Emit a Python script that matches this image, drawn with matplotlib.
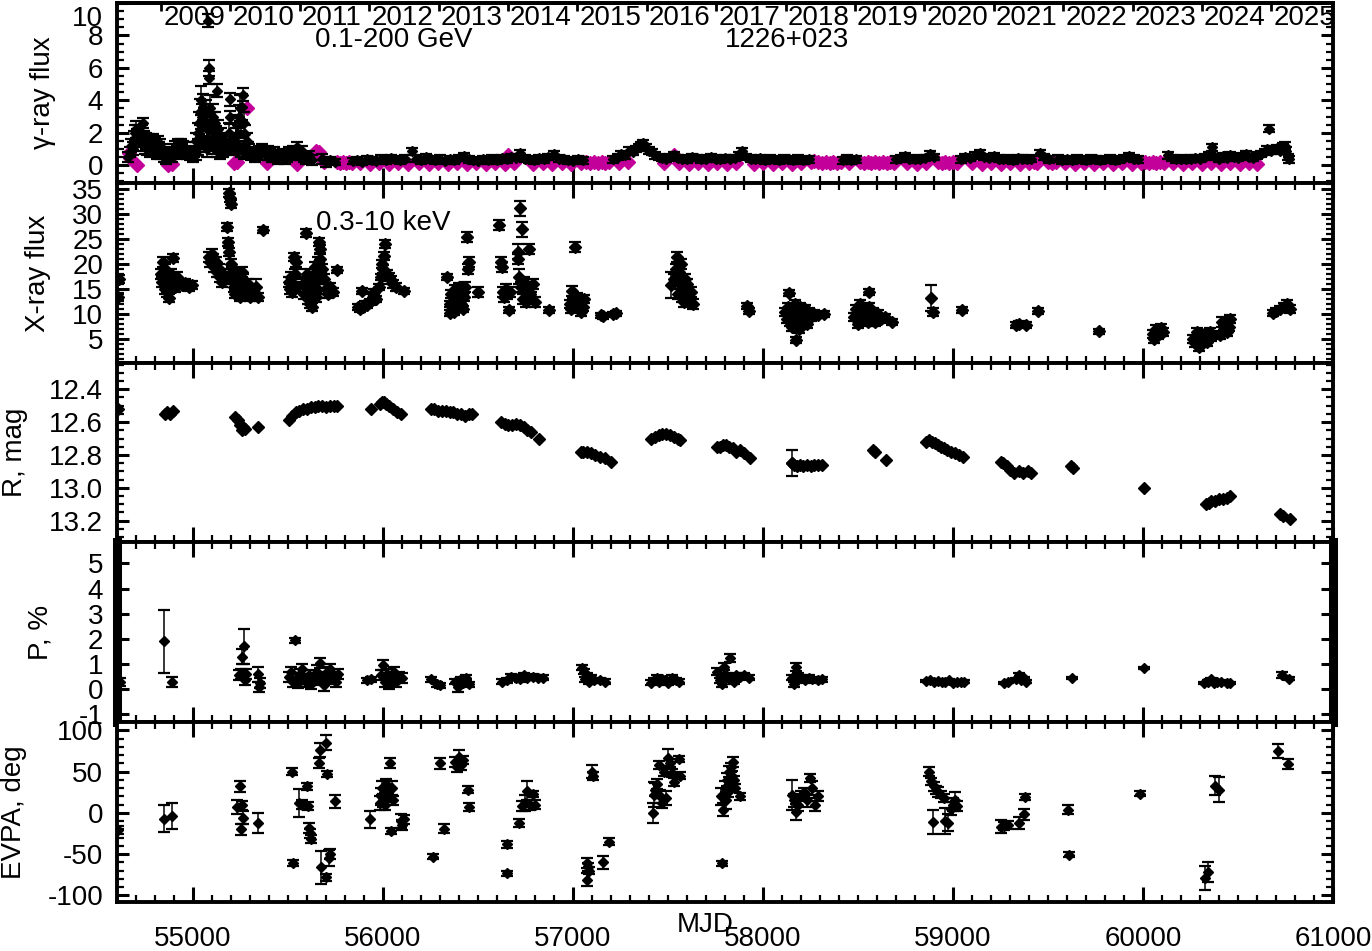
import matplotlib
matplotlib.use('Agg')
import matplotlib.pyplot as plt
from matplotlib.ticker import MultipleLocator, FixedLocator, NullLocator, FuncFormatter, FormatStrFormatter

# ---------------- data ----------------
years = [2009, 2010, 2011, 2012, 2013, 2014, 2015, 2016, 2017, 2018, 2019, 2020, 2021, 2022, 2023, 2024, 2025]
year_mjd = [54832, 55197, 55562, 55927, 56293, 56658, 57023, 57388, 57754, 58119, 58484, 58849, 59215, 59580, 59945, 60310, 60676]

# gamma-ray, early era (black, with errors)
g1_mjd = [54660, 54668, 54675, 54682, 54688, 54694, 54700, 54705, 54712, 54718,
          54724, 54730, 54735, 54741, 54747, 54753, 54760, 54766, 54772, 54778,
          54784, 54790, 54796, 54802, 54808, 54814, 54820, 54826, 54832, 54838,
          54845, 54852, 54860, 54868, 54876, 54884, 54892, 54900, 54907, 54914,
          54921, 54928, 54935, 54942, 54949, 54956, 54963, 54970, 54977, 54984,
          54991, 54998, 55005, 55012, 55018, 55024, 55030, 55036, 55040, 55045,
          55050, 55055, 55060, 55066, 55072, 55079, 55084, 55086, 55092, 55098,
          55104, 55110, 55116, 55122, 55128, 55134, 55140, 55146, 55152, 55158,
          55164, 55170, 55176, 55182, 55188, 55195, 55197, 55203, 55210, 55216,
          55222, 55228, 55234, 55240, 55246, 55252, 55258, 55263, 55270, 55276,
          55282, 55288, 55295, 55305, 55315, 55325, 55335, 55345, 55355, 55365,
          55375, 55385, 55395, 55405, 55415, 55425, 55435, 55445, 55455, 55465,
          55475, 55485, 55495, 55505, 55515, 55525, 55535, 55545, 55555, 55565,
          55575, 55585, 55595, 55610, 55625, 55680, 55700,
          55015, 55027, 55042, 55058, 55075, 55090, 55107, 55125, 55143, 55238, 55255, 55268]
g1_flux = [0.5, 0.8, 1.2, 1.0, 1.6, 2.0, 2.2, 1.7, 2.2, 1.8,
           1.4, 2.0, 2.6, 1.6, 1.2, 1.5, 1.0, 1.4, 0.9, 1.3,
           1.0, 1.5, 1.1, 1.3, 0.8, 1.4, 1.0, 1.2, 0.7, 0.9,
           0.5, 0.7, 0.4, 0.8, 0.5, 0.7, 0.5, 0.9, 1.1, 0.8,
           1.2, 1.0, 1.3, 0.9, 1.1, 0.8, 1.0, 0.7, 0.9, 0.6,
           0.8, 0.5, 0.8, 1.0, 1.5, 2.0, 2.6, 3.3, 4.0, 3.0,
           2.4, 3.6, 2.8, 3.2, 2.2, 8.9, 6.0, 5.4, 3.5, 2.6,
           3.0, 2.0, 2.6, 1.8, 4.6, 2.2, 1.5, 1.8, 1.2, 0.9,
           1.3, 1.0, 1.4, 1.1, 2.0, 4.05, 2.95, 1.5, 1.2, 1.0,
           1.5, 1.8, 2.5, 3.0, 3.5, 2.8, 3.6, 4.35, 2.6, 1.9,
           1.5, 1.0, 0.9, 0.6, 0.8, 0.5, 0.7, 0.9, 0.6, 1.0,
           0.8, 0.6, 0.9, 0.7, 0.5, 0.8, 0.6, 0.4, 0.6, 0.5,
           0.7, 0.4, 0.5, 0.8, 0.6, 0.9, 0.7, 1.1, 0.8, 0.6,
           0.9, 0.5, 0.4, 0.6, 0.3, 0.4, 0.2,
           0.7, 1.1, 1.6, 1.3, 1.0, 1.5, 1.2, 0.9, 0.8, 1.2, 1.0, 0.8]
g1_err = [0.3, 0.3, 0.4, 0.4, 0.5, 0.5, 0.5, 0.5, 0.3, 0.5,
          0.5, 0.5, 0.3, 0.5, 0.5, 0.5, 0.4, 0.5, 0.4, 0.5,
          0.4, 0.4, 0.4, 0.4, 0.4, 0.4, 0.4, 0.4, 0.3, 0.4,
          0.3, 0.3, 0.3, 0.3, 0.3, 0.3, 0.3, 0.4, 0.4, 0.4,
          0.4, 0.4, 0.3, 0.4, 0.4, 0.3, 0.4, 0.3, 0.3, 0.3,
          0.3, 0.3, 0.3, 0.4, 0.5, 0.6, 0.7, 0.8, 0.9, 0.8,
          0.7, 0.8, 0.7, 0.8, 0.6, 0.4, 0.5, 0.4, 0.8, 0.7,
          0.8, 0.6, 0.7, 0.6, 0.4, 0.6, 0.5, 0.5, 0.4, 0.4,
          0.5, 0.4, 0.5, 0.4, 0.6, 0.4, 0.4, 0.5, 0.4, 0.4,
          0.5, 0.5, 0.6, 0.7, 0.8, 0.7, 0.8, 0.4, 0.7, 0.6,
          0.5, 0.4, 0.4, 0.3, 0.3, 0.3, 0.3, 0.3, 0.3, 0.3,
          0.3, 0.3, 0.3, 0.3, 0.3, 0.3, 0.3, 0.3, 0.3, 0.3,
          0.3, 0.3, 0.3, 0.3, 0.3, 0.3, 0.3, 0.3, 0.3, 0.3,
          0.3, 0.3, 0.3, 0.3, 0.3, 0.3, 0.3,
          0.4, 0.5, 0.6, 0.5, 0.5, 0.6, 0.5, 0.4, 0.4, 0.5, 0.5, 0.4]

# gamma-ray, low state (black)
g2_mjd = [55720, 55745, 55840, 55865, 55890, 55915, 55940, 55965, 55990, 56015,
          56040, 56065, 56090, 56115, 56150, 56175, 56200, 56225, 56250, 56275,
          56300, 56325, 56350, 56375, 56400, 56425, 56450, 56475, 56500, 56525,
          56550, 56575, 56600, 56625, 56650, 56675, 56700, 56720, 56745, 56770,
          56795, 56820, 56845, 56870, 56900, 56925, 56950, 56975, 57000, 57025,
          57050, 57210, 57235, 57255, 57275, 57295, 57315, 57330, 57345, 57360,
          57370, 57385, 57400, 57415, 57430, 57450, 57470, 57490, 57510, 57530,
          57550, 57575, 57600, 57625, 57650, 57675, 57700, 57725, 57750, 57775,
          57800, 57825, 57850, 57875, 57890, 57910, 57935, 57960, 57985, 58010,
          58035, 58060, 58085, 58110, 58135, 58160, 58185, 58210, 58240, 58420,
          58440, 58465, 58490, 58700, 58725, 58745, 58770, 58800, 58825, 58850,
          58880, 58900, 59040, 59065, 59090, 59115, 59140, 59165, 59190, 59215,
          59240, 59265, 59290, 59315, 59340, 59365, 59390, 59410, 59460, 59480,
          59505, 59550, 59575, 59600, 59625, 59650, 59675, 59700, 59725, 59750,
          59775, 59800, 59825, 59850, 59875, 59900, 59925, 59950, 59975, 60130,
          60150, 60175, 60200, 60225, 60250, 60275, 60300, 60325, 60345, 60363,
          60380, 60400, 60420, 60440, 60460, 60480, 60500, 60520, 60540, 60560,
          60580, 60600, 60620, 60640, 60655, 60663, 60675, 60690, 60705, 60720,
          60735, 60747, 60755, 60765, 60770]
g2_flux = [0.3, 0.2, 0.25, 0.3, 0.2, 0.35, 0.3, 0.25, 0.4, 0.3,
           0.45, 0.35, 0.3, 0.4, 0.85, 0.4, 0.3, 0.5, 0.35, 0.3,
           0.4, 0.25, 0.35, 0.3, 0.45, 0.55, 0.35, 0.3, 0.25, 0.35,
           0.3, 0.4, 0.3, 0.45, 0.35, 0.5, 0.45, 0.75, 0.4, 0.35,
           0.3, 0.45, 0.35, 0.5, 0.7, 0.4, 0.35, 0.3, 0.25, 0.35,
           0.3, 0.35, 0.5, 0.7, 0.6, 0.9, 0.8, 1.0, 1.1, 1.25,
           1.35, 1.1, 0.9, 0.8, 0.6, 0.5, 0.45, 0.4, 0.5, 0.6,
           0.45, 0.4, 0.35, 0.5, 0.45, 0.35, 0.4, 0.5, 0.4, 0.35,
           0.45, 0.4, 0.45, 0.6, 0.85, 0.5, 0.4, 0.35, 0.45, 0.3,
           0.4, 0.35, 0.3, 0.4, 0.35, 0.3, 0.4, 0.3, 0.35, 0.3,
           0.4, 0.3, 0.35, 0.35, 0.45, 0.55, 0.4, 0.35, 0.4, 0.45,
           0.7, 0.5, 0.35, 0.5, 0.45, 0.6, 0.75, 0.5, 0.45, 0.55,
           0.4, 0.35, 0.4, 0.3, 0.45, 0.4, 0.35, 0.4, 0.75, 0.5,
           0.35, 0.4, 0.3, 0.35, 0.3, 0.4, 0.35, 0.3, 0.4, 0.35,
           0.3, 0.35, 0.4, 0.3, 0.35, 0.45, 0.55, 0.4, 0.35, 0.6,
           0.45, 0.35, 0.4, 0.35, 0.4, 0.45, 0.4, 0.5, 0.6, 1.1,
           0.5, 0.4, 0.55, 0.45, 0.6, 0.5, 0.45, 0.55, 0.7, 0.5,
           0.45, 0.6, 0.7, 0.8, 1.0, 2.25, 0.9, 1.0, 1.05, 0.9,
           1.15, 1.2, 0.9, 0.5, 0.35]
g2_err = 0.2

# gamma-ray upper limits (magenta)
gul_mjd = [54662, 54670, 54705, 54870, 54890, 55215, 55230, 55286, 55390, 55488,
           55500, 55520, 55547, 55615, 55645, 55662, 55690, 55760, 55775, 55790,
           55805, 55820, 55835, 55880, 55930, 55980, 56030, 56080, 56130, 56190,
           56240, 56290, 56340, 56390, 56440, 56490, 56540, 56590, 56640, 56660,
           56690, 56790, 56840, 56890, 56940, 56990, 57040, 57070, 57090, 57110,
           57130, 57150, 57170, 57190, 57240, 57290, 57480, 57530, 57560, 57610,
           57660, 57710, 57760, 57810, 57860, 57950, 58000, 58050, 58100, 58150,
           58200, 58250, 58270, 58290, 58310, 58330, 58350, 58370, 58390, 58410,
           58450, 58510, 58530, 58550, 58570, 58590, 58610, 58630, 58650, 58670,
           58690, 58760, 58810, 58860, 58920, 58940, 58960, 58980, 59000, 59020,
           59100, 59150, 59200, 59250, 59300, 59350, 59400, 59425, 59440, 59500,
           59520, 59540, 59590, 59640, 59690, 59740, 59790, 59840, 59890, 59940,
           59990, 60010, 60030, 60050, 60070, 60090, 60110, 60160, 60210, 60260,
           60310, 60360, 60410, 60460, 60510, 60560, 60600]
gul_flux = [0.75, 0.45, 0.0, 0.0, 0.05, 0.15, 0.2, 3.5, 0.15, 0.7,
            0.6, 0.5, 0.1, 0.5, 0.85, 0.8, 0.2, 0.2, 0.15, 0.2,
            0.15, 0.2, 0.15, 0.15, 0.1, 0.15, 0.1, 0.15, 0.1, 0.15,
            0.1, 0.15, 0.1, 0.15, 0.1, 0.15, 0.1, 0.15, 0.1, 0.6,
            0.15, 0.1, 0.15, 0.1, 0.15, 0.1, 0.15, 0.2, 0.15, 0.2,
            0.15, 0.2, 0.15, 0.2, 0.15, 0.2, 0.15, 0.6, 0.15, 0.1,
            0.15, 0.1, 0.15, 0.1, 0.15, 0.1, 0.15, 0.1, 0.15, 0.1,
            0.15, 0.2, 0.25, 0.2, 0.15, 0.2, 0.15, 0.2, 0.15, 0.2,
            0.15, 0.2, 0.15, 0.2, 0.15, 0.2, 0.15, 0.2, 0.15, 0.2,
            0.15, 0.15, 0.1, 0.15, 0.2, 0.15, 0.2, 0.15, 0.2, 0.15,
            0.15, 0.1, 0.15, 0.1, 0.15, 0.1, 0.15, 0.2, 0.15, 0.2,
            0.15, 0.2, 0.15, 0.1, 0.15, 0.1, 0.15, 0.1, 0.15, 0.1,
            0.15, 0.2, 0.15, 0.2, 0.15, 0.2, 0.15, 0.15, 0.1, 0.15,
            0.1, 0.15, 0.1, 0.15, 0.1, 0.15, 0.1]

# X-ray 0.3-10 keV
x_mjd = [54606, 54612, 54830, 54835, 54840, 54845, 54850, 54855, 54860, 54865,
         54870, 54875, 54880, 54885, 54890, 54895, 54900, 54905, 54915, 54925,
         54940, 54960, 54980, 54995, 55085, 55092, 55098, 55105, 55112, 55120,
         55128, 55135, 55140, 55150, 55160, 55170, 55180, 55185, 55190, 55192,
         55195, 55198, 55200, 55205, 55210, 55215, 55220, 55225, 55230, 55235,
         55240, 55245, 55250, 55255, 55260, 55265, 55270, 55280, 55290, 55300,
         55310, 55320, 55330, 55340, 55370, 55505, 55510, 55515, 55520, 55525,
         55530, 55535, 55540, 55545, 55585, 55590, 55595, 55600, 55605, 55610,
         55615, 55620, 55625, 55630, 55635, 55640, 55645, 55650, 55655, 55660,
         55663, 55666, 55670, 55675, 55680, 55690, 55700, 55710, 55720, 55735,
         55760, 55870, 55880, 55890, 55895, 55905, 55915, 55930, 55945, 55955,
         55965, 55980, 55990, 55995, 56000, 56005, 56010, 56020, 56030, 56040,
         56055, 56070, 56110, 56335, 56350, 56355, 56360, 56365, 56370, 56375,
         56380, 56385, 56390, 56395, 56400, 56405, 56410, 56415, 56420, 56425,
         56430, 56442, 56447, 56452, 56500, 56610, 56620, 56625, 56630, 56638,
         56645, 56655, 56662, 56670, 56710, 56713, 56716, 56721, 56732, 56725,
         56735, 56742, 56750, 56758, 56766, 56772, 56780, 56790, 56800, 56875,
         56985, 56990, 56995, 57000, 57008, 57020, 57030, 57040, 57050, 57060,
         57145, 57160, 57210, 57225, 57515, 57530, 57540, 57548, 57555, 57560,
         57565, 57570, 57575, 57580, 57585, 57590, 57595, 57600, 57610, 57620,
         57630, 57915, 57925, 58115, 58125, 58130, 58137, 58140, 58145, 58150,
         58155, 58160, 58165, 58170, 58176, 58180, 58185, 58190, 58195, 58200,
         58205, 58210, 58220, 58230, 58240, 58255, 58270, 58290, 58320, 58480,
         58490, 58500, 58510, 58520, 58530, 58550, 58558, 58560, 58570, 58580,
         58590, 58605, 58620, 58640, 58680, 58885, 58895, 59048, 59330, 59345,
         59385, 59447, 59768, 60050, 60060, 60070, 60080, 60095, 60105, 60265,
         60275, 60285, 60295, 60305, 60320, 60335, 60350, 60360, 60405, 60415,
         60425, 60440, 60455, 60460, 60685, 60700, 60720, 60740, 60760, 60775]
x_flux = [13.4, 17.0, 18.0, 16.5, 20.5, 17.5, 15.0, 19.0, 16.0, 14.5,
          17.5, 13.2, 15.5, 18.0, 16.5, 21.2, 17.0, 15.5, 17.5, 16.0,
          15.8, 16.2, 15.5, 15.8, 21.5, 20.5, 22.0, 21.0, 19.5, 20.5,
          18.5, 19.0, 17.5, 16.5, 18.0, 17.0, 27.4, 24.5, 22.5, 34.3,
          33.2, 32.0, 20.0, 18.5, 17.0, 15.5, 14.0, 16.5, 18.0, 15.0,
          17.0, 13.5, 16.0, 14.5, 18.5, 17.0, 15.5, 14.0, 16.0, 13.5,
          15.0, 14.5, 15.5, 13.5, 26.8, 16.5, 15.0, 17.5, 14.5, 16.0,
          21.4, 18.0, 20.5, 15.5, 14.0, 16.5, 26.2, 18.0, 13.0, 15.5,
          12.0, 17.0, 11.5, 14.5, 16.5, 19.5, 13.5, 18.0, 15.0, 20.5,
          24.5, 23.0, 21.0, 17.5, 19.0, 17.0, 15.0, 14.0, 15.5, 14.5,
          18.8, 11.4, 11.0, 14.6, 11.5, 12.0, 11.8, 12.5, 13.5, 14.5,
          13.0, 15.5, 17.5, 20.0, 19.0, 21.6, 24.0, 18.0, 17.5, 16.8,
          16.0, 15.5, 14.6, 17.5, 10.2, 12.0, 14.0, 11.0, 13.5, 10.5,
          15.0, 12.5, 14.5, 11.5, 15.5, 13.0, 12.0, 14.0, 11.0, 13.5,
          15.5, 25.4, 19.0, 20.5, 14.5, 27.8, 20.5, 19.5, 14.5, 13.5,
          15.0, 14.0, 10.8, 14.5, 22.5, 21.0, 17.5, 31.2, 27.0, 15.5,
          13.0, 16.5, 12.5, 15.0, 23.0, 14.0, 13.5, 16.0, 12.5, 10.8,
          12.0, 11.0, 14.6, 12.5, 23.4, 13.5, 12.0, 10.5, 11.5, 13.0,
          9.8, 9.6, 10.0, 10.2, 15.8, 17.0, 19.0, 21.5, 14.0, 18.5,
          16.0, 20.0, 13.5, 15.5, 12.5, 17.0, 14.0, 16.0, 13.0, 14.5,
          12.0, 11.6, 10.6, 10.5, 9.0, 11.5, 14.2, 8.5, 10.0, 7.5,
          11.0, 9.5, 8.0, 12.0, 4.8, 9.0, 10.5, 7.0, 11.5, 8.5,
          10.0, 9.5, 11.0, 8.0, 10.5, 9.5, 10.0, 9.8, 10.0, 9.5,
          11.0, 8.0, 12.0, 9.0, 10.5, 8.5, 14.4, 11.5, 9.5, 10.5,
          8.5, 10.0, 9.0, 9.5, 8.5, 13.2, 10.4, 10.8, 7.8, 8.0,
          7.8, 10.6, 6.6, 6.0, 5.0, 7.0, 5.8, 7.2, 6.5, 5.0,
          4.2, 6.5, 3.5, 5.5, 6.0, 4.5, 6.5, 5.5, 5.8, 8.5,
          7.0, 6.5, 7.5, 9.0, 10.2, 10.6, 11.0, 11.5, 12.0, 11.0]
x_err = [0.8, 0.8, 1.0, 1.0, 1.0, 1.0, 1.0, 1.0, 1.0, 1.0,
         1.0, 0.8, 1.0, 1.0, 1.0, 0.8, 1.0, 1.0, 1.0, 0.8,
         0.8, 0.8, 0.8, 0.8, 1.0, 1.0, 1.0, 1.0, 1.0, 1.0,
         1.0, 1.0, 1.0, 1.0, 1.0, 1.0, 0.8, 0.8, 0.8, 0.8,
         0.8, 0.8, 1.0, 1.0, 1.0, 1.0, 0.8, 1.0, 1.0, 1.0,
         1.0, 0.8, 1.0, 1.0, 1.0, 1.0, 1.0, 1.0, 1.0, 0.8,
         1.0, 1.0, 1.5, 0.8, 0.6, 1.0, 1.0, 1.0, 1.0, 1.0,
         0.8, 1.0, 1.0, 1.0, 1.0, 1.0, 0.8, 1.0, 1.0, 1.0,
         0.8, 1.0, 0.8, 1.0, 1.0, 1.0, 1.0, 1.0, 1.0, 1.0,
         0.8, 0.8, 1.0, 1.0, 1.0, 1.0, 1.0, 0.8, 0.8, 0.8,
         0.6, 0.6, 0.6, 0.6, 0.6, 0.6, 0.6, 0.6, 0.6, 0.6,
         0.6, 0.6, 0.6, 0.8, 0.8, 0.8, 0.8, 0.8, 0.8, 0.8,
         0.8, 0.8, 0.6, 0.6, 0.6, 0.6, 0.8, 0.6, 0.8, 0.6,
         0.8, 0.8, 0.8, 0.6, 0.8, 0.8, 0.8, 0.8, 0.6, 0.8,
         1.0, 1.0, 1.0, 1.0, 1.0, 1.0, 1.0, 1.0, 1.0, 1.0,
         1.0, 1.0, 0.6, 1.0, 1.5, 1.0, 1.5, 1.5, 1.5, 1.0,
         1.0, 1.0, 1.0, 1.0, 1.0, 1.0, 1.0, 1.0, 1.0, 0.6,
         0.8, 0.8, 1.0, 0.8, 1.0, 0.8, 0.8, 0.8, 0.8, 0.8,
         0.5, 0.5, 0.5, 0.5, 2.6, 1.0, 1.0, 1.0, 1.0, 1.0,
         1.0, 1.0, 1.0, 1.0, 1.0, 1.0, 1.0, 1.0, 1.0, 1.0,
         1.0, 0.6, 0.6, 0.8, 0.8, 0.8, 0.6, 0.8, 0.8, 0.8,
         0.8, 0.8, 0.8, 0.8, 0.6, 0.8, 0.8, 0.8, 0.8, 0.8,
         0.8, 0.8, 0.8, 0.8, 0.8, 0.8, 0.8, 0.6, 0.6, 0.8,
         0.8, 0.8, 0.8, 0.8, 0.8, 0.8, 0.6, 0.8, 0.8, 0.8,
         0.8, 0.8, 0.8, 0.6, 0.6, 2.6, 0.8, 0.6, 0.6, 0.6,
         0.6, 0.6, 0.5, 0.8, 0.8, 0.8, 0.8, 0.8, 0.8, 0.8,
         0.8, 0.8, 0.8, 0.8, 0.8, 0.8, 0.8, 0.8, 0.8, 1.0,
         0.8, 0.8, 0.8, 0.8, 0.6, 0.6, 0.6, 0.8, 0.8, 0.8]

# R-band magnitude
r_mjd = [54605, 54850, 54865, 54880, 54895, 55220, 55235, 55248, 55258, 55265,
         55275, 55340, 55505, 55520, 55540, 55560, 55580, 55600, 55620, 55640,
         55660, 55680, 55700, 55720, 55740, 55760, 55935, 55985, 55995, 56005,
         56015, 56030, 56050, 56075, 56095, 56255, 56270, 56290, 56310, 56330,
         56350, 56370, 56390, 56410, 56430, 56450, 56470, 56620, 56640, 56660,
         56680, 56700, 56720, 56740, 56760, 56780, 56820, 57040, 57055, 57075,
         57095, 57115, 57140, 57170, 57200, 57410, 57430, 57450, 57470, 57490,
         57510, 57530, 57550, 57565, 57760, 57775, 57790, 57805, 57820, 57840,
         57860, 57880, 57900, 57930, 58150, 58165, 58180, 58195, 58210, 58230,
         58250, 58270, 58290, 58310, 58580, 58590, 58645, 58860, 58875, 58890,
         58905, 58920, 58935, 58950, 58970, 58990, 59010, 59030, 59050, 59250,
         59265, 59285, 59300, 59320, 59345, 59370, 59395, 59410, 59620, 59630,
         60005, 60330, 60345, 60360, 60380, 60400, 60420, 60440, 60460, 60720,
         60735, 60775]
r_mag = [12.52, 12.55, 12.54, 12.55, 12.53, 12.57, 12.59, 12.62, 12.65, 12.63,
         12.64, 12.63, 12.59, 12.56, 12.54, 12.53, 12.52, 12.52, 12.51, 12.51,
         12.50, 12.50, 12.51, 12.50, 12.50, 12.50, 12.52, 12.49, 12.48, 12.48,
         12.49, 12.50, 12.52, 12.54, 12.55, 12.52, 12.52, 12.53, 12.53, 12.53,
         12.54, 12.54, 12.55, 12.55, 12.56, 12.55, 12.55, 12.60, 12.61, 12.62,
         12.62, 12.61, 12.62, 12.63, 12.65, 12.66, 12.70, 12.78, 12.78, 12.78,
         12.79, 12.80, 12.81, 12.82, 12.84, 12.70, 12.69, 12.68, 12.67, 12.67,
         12.68, 12.69, 12.70, 12.71, 12.75, 12.75, 12.74, 12.74, 12.75, 12.76,
         12.78, 12.77, 12.79, 12.82, 12.85, 12.86, 12.87, 12.86, 12.87, 12.86,
         12.87, 12.86, 12.86, 12.86, 12.77, 12.78, 12.83, 12.72, 12.71, 12.72,
         12.73, 12.74, 12.75, 12.76, 12.77, 12.78, 12.79, 12.80, 12.81, 12.84,
         12.85, 12.87, 12.89, 12.91, 12.90, 12.91, 12.90, 12.91, 12.87, 12.88,
         13.00, 13.10, 13.09, 13.08, 13.08, 13.07, 13.07, 13.06, 13.05, 13.16,
         13.17, 13.19]
r_err_mjd = [58150]
r_err_mag = [12.85]
r_err_err = [0.08]

# polarization degree
p_mjd = [54616, 54847, 54889, 55240, 55250, 55260, 55268, 55272, 55280, 55340,
         55345, 55355, 55505, 55515, 55525, 55535, 55545, 55555, 55565, 55575,
         55585, 55595, 55610, 55620, 55635, 55650, 55660, 55670, 55680, 55690,
         55700, 55710, 55720, 55735, 55750, 55765, 55915, 55935, 55990, 56000,
         56010, 56020, 56030, 56040, 56050, 56060, 56070, 56085, 56100, 56255,
         56285, 56300, 56380, 56395, 56410, 56420, 56435, 56450, 56625, 56650,
         56675, 56700, 56720, 56740, 56760, 56790, 56815, 56840, 57045, 57060,
         57065, 57075, 57085, 57095, 57110, 57140, 57170, 57410, 57425, 57440,
         57455, 57470, 57485, 57500, 57520, 57540, 57560, 57760, 57775, 57785,
         57795, 57805, 57815, 57825, 57835, 57845, 57860, 57880, 57900, 57925,
         58150, 58165, 58175, 58185, 58200, 58220, 58240, 58260, 58290, 58310,
         58860, 58880, 58900, 58920, 58940, 58960, 58980, 59000, 59020, 59040,
         59060, 59270, 59290, 59330, 59345, 59360, 59375, 59385, 59626, 60005,
         60320, 60340, 60360, 60375, 60390, 60410, 60440, 60460, 60732, 60770]
p_val = [0.28, 1.9, 0.30, 0.55, 0.6, 1.3, 1.7, 0.35, 0.6, 0.6,
         0.1, 0.25, 0.5, 0.7, 0.3, 1.95, 0.45, 0.25, 0.6, 0.8,
         0.4, 0.3, 0.55, 0.2, 0.45, 0.7, 0.35, 1.05, 0.5, 0.15,
         0.65, 0.4, 0.8, 0.5, 0.3, 0.6, 0.35, 0.4, 0.55, 0.95,
         0.3, 0.6, 0.2, 0.5, 0.4, 0.7, 0.3, 0.5, 0.45, 0.40,
         0.20, 0.15, 0.3, 0.1, 0.4, 0.25, 0.45, 0.2, 0.30, 0.35,
         0.50, 0.45, 0.40, 0.55, 0.45, 0.50, 0.45, 0.45, 0.85, 0.70,
         0.4, 0.55, 0.3, 0.45, 0.35, 0.35, 0.3, 0.25, 0.35, 0.45,
         0.3, 0.4, 0.35, 0.25, 0.45, 0.35, 0.3, 0.7, 0.35, 0.2,
         0.9, 0.55, 0.45, 1.25, 0.5, 0.3, 0.55, 0.5, 0.55, 0.45,
         0.45, 0.2, 0.88, 0.55, 0.45, 0.35, 0.45, 0.40, 0.35, 0.4,
         0.33, 0.35, 0.30, 0.33, 0.30, 0.28, 0.35, 0.25, 0.3, 0.28,
         0.3, 0.25, 0.28, 0.4, 0.55, 0.35, 0.45, 0.3, 0.45, 0.85,
         0.25, 0.3, 0.4, 0.25, 0.3, 0.3, 0.25, 0.25, 0.55, 0.42]
p_err = [0.15, 1.25, 0.2, 0.2, 0.2, 0.3, 0.7, 0.2, 0.2, 0.3,
         0.2, 0.2, 0.2, 0.2, 0.2, 0.1, 0.2, 0.2, 0.2, 0.2,
         0.2, 0.2, 0.2, 0.2, 0.2, 0.25, 0.2, 0.2, 0.2, 0.2,
         0.25, 0.2, 0.2, 0.2, 0.2, 0.2, 0.1, 0.1, 0.2, 0.2,
         0.2, 0.2, 0.2, 0.2, 0.2, 0.2, 0.2, 0.2, 0.2, 0.1,
         0.1, 0.1, 0.1, 0.2, 0.1, 0.1, 0.1, 0.1, 0.1, 0.1,
         0.1, 0.1, 0.1, 0.1, 0.1, 0.1, 0.1, 0.1, 0.1, 0.1,
         0.1, 0.1, 0.1, 0.1, 0.1, 0.1, 0.1, 0.1, 0.1, 0.1,
         0.1, 0.1, 0.1, 0.1, 0.1, 0.1, 0.1, 0.15, 0.1, 0.1,
         0.15, 0.1, 0.1, 0.15, 0.1, 0.1, 0.1, 0.1, 0.1, 0.1,
         0.1, 0.1, 0.15, 0.1, 0.1, 0.1, 0.1, 0.1, 0.1, 0.1,
         0.05, 0.05, 0.05, 0.05, 0.05, 0.05, 0.05, 0.05, 0.05, 0.05,
         0.05, 0.05, 0.05, 0.05, 0.1, 0.05, 0.05, 0.05, 0.05, 0.05,
         0.05, 0.05, 0.05, 0.05, 0.05, 0.05, 0.05, 0.05, 0.12, 0.05]

# EVPA
e_mjd = [54605, 54845, 54888, 55232, 55245, 55255, 55260, 55262, 55340, 55521,
         55527, 55560, 55575, 55600, 55605, 55612, 55618, 55620, 55665, 55668,
         55674, 55700, 55702, 55705, 55715, 55720, 55745, 55932, 55985, 55990,
         55995, 56000, 56005, 56010, 56015, 56020, 56025, 56030, 56035, 56040,
         56045, 56055, 56095, 56100, 56110, 56263, 56300, 56321, 56380, 56390,
         56400, 56410, 56420, 56445, 56450, 56652, 56655, 56715, 56730, 56745,
         56760, 56775, 56790, 56800, 57074, 57076, 57080, 57085, 57100, 57104,
         57158, 57189, 57420, 57425, 57432, 57440, 57450, 57460, 57470, 57480,
         57490, 57500, 57510, 57520, 57530, 57560, 57565, 57784, 57780, 57790,
         57800, 57805, 57810, 57815, 57820, 57825, 57830, 57835, 57840, 57845,
         57850, 57880, 58155, 58165, 58175, 58185, 58200, 58215, 58230, 58245,
         58260, 58275, 58290, 58873, 58885, 58895, 58900, 58910, 58920, 58935,
         58950, 58960, 58975, 58990, 59000, 59010, 59020, 59250, 59270, 59290,
         59347, 59374, 59380, 59605, 59608, 59984, 60326, 60340, 60380, 60400,
         60710, 60763]
e_val = [-21, -7, -4, 7, 32, -20, 9, -6, -12, 50,
         -61, 12, 10, 32, 8, -18, -25, -32, 60, 76,
         -66, 85, -78, 47, -55, -50, 14, -8, 12, 20,
         30, 15, 25, 10, 35, 18, 28, 22, 60, -22,
         30, 15, -10, -15, -8, -53, 60, -19, 62, 55,
         68, 58, 64, 28, 7, -38, -73, -12, 8, 12,
         27, 10, 23, 10, -61, -81, -66, -70, 50, 45,
         -60, -35, 0, 22, 28, 35, 58, 20, 12, 50,
         18, 67, 60, 48, 37, 65, 45, -61, 20, 4,
         30, 15, 40, 25, 50, 35, 55, 45, 62, 40,
         30, 20, 22, 15, 1, 10, 20, 25, 15, 42,
         30, 10, 20, 50, 38, -11, 32, 28, 25, 22,
         18, -10, -12, 5, 10, 15, 8, -17, -16, -15,
         -12, -2, 19, 4, -51, 23, -79, -72, 33, 28,
         75, 59]
e_err = [5, 16, 16, 9, 7, 7, 5, 8, 12, 4,
         4, 17, 5, 4, 5, 6, 6, 5, 6, 8,
         20, 9, 4, 4, 10, 6, 8, 10, 8, 10,
         8, 8, 5, 6, 6, 5, 5, 5, 6, 4,
         8, 5, 8, 6, 5, 3, 7, 5, 6, 5,
         8, 6, 5, 4, 5, 4, 3, 5, 6, 10,
         12, 6, 4, 5, 6, 8, 5, 4, 8, 5,
         8, 4, 12, 15, 8, 6, 5, 8, 6, 6,
         8, 10, 5, 5, 5, 4, 4, 3, 10, 8,
         8, 10, 8, 6, 7, 6, 5, 6, 6, 5,
         5, 4, 18, 8, 10, 8, 6, 5, 8, 5,
         8, 8, 6, 5, 4, 15, 5, 5, 6, 4,
         5, 16, 10, 8, 8, 10, 6, 8, 5, 5,
         7, 7, 4, 5, 3, 3, 15, 12, 12, 15,
         8, 6]

# ---------------- figure ----------------
plt.rcParams['font.family'] = ['Liberation Sans', 'DejaVu Sans']
plt.rcParams['font.size'] = 20
plt.rcParams['axes.unicode_minus'] = False

W, H = 1372, 951
fig = plt.figure(figsize=(W / 100, H / 100), dpi=100)
left, right = 117 / W, 1333 / W
edges = [3, 183, 363, 542, 722, 902]
axes = []
for i in range(5):
    t, b = edges[i], edges[i + 1]
    axes.append(fig.add_axes([left, 1 - b / H, right - left, (b - t) / H]))

MAG = '#C4009B'


def style(ax, ymaj, ymin, ylim):
    ax.set_xlim(54600, 61000)
    ax.set_ylim(*ylim)
    ax.xaxis.set_major_locator(MultipleLocator(1000))
    ax.xaxis.set_minor_locator(MultipleLocator(100))
    ax.yaxis.set_major_locator(MultipleLocator(ymaj))
    if ymin:
        ax.yaxis.set_minor_locator(MultipleLocator(ymin))
    else:
        ax.yaxis.set_minor_locator(NullLocator())
    ax.tick_params(which='both', direction='in', top=True, right=True,
                   bottom=True, left=True, labelbottom=False, width=2.2)
    ax.tick_params(axis='x', which='major', length=11, pad=17)
    ax.tick_params(axis='x', which='minor', length=5, width=1.6)
    ax.tick_params(axis='y', which='major', length=8.6, pad=10)
    ax.tick_params(axis='y', which='minor', length=5, width=1.6)
    for s in ax.spines.values():
        s.set_linewidth(2.8)


def eb(ax, x, y, e, ms=5.5):
    ax.errorbar(x, y, yerr=e, fmt='D', color='black', ms=ms, mec='black',
                capsize=4.5, elinewidth=1.1, capthick=1.6, zorder=3)


# panel 1: gamma
ax = axes[0]
style(ax, 2, 0.5, (-1.1, 10.0))
ax.tick_params(which='both', top=False)
ax.yaxis.set_major_formatter(FuncFormatter(lambda v, p: '' if v > 9.9 else f'{v:g}'))
ax.plot(gul_mjd, gul_flux, 'D', color=MAG, ms=7.5, mec=MAG, zorder=2)
eb(ax, g1_mjd, g1_flux, g1_err)
eb(ax, g2_mjd, g2_flux, g2_err)
ax.annotate('10', xy=(0, 10), xycoords=('axes fraction', 'data'), xytext=(-10, -16.5),
            textcoords='offset points', ha='right', va='baseline', annotation_clip=False)
sec = ax.secondary_xaxis('top')
sec.xaxis.set_major_locator(FixedLocator(year_mjd))
sec.xaxis.set_minor_locator(NullLocator())
sec.tick_params(direction='in', length=6, width=2, labeltop=False)
sec.spines['top'].set_linewidth(2.8)
for yr, m in zip(years, year_mjd):
    ax.annotate(str(yr), xy=(m, 1), xycoords=('data', 'axes fraction'), xytext=(1.5, -15.8),
                textcoords='offset points', ha='left', va='baseline', annotation_clip=False)
ax.set_ylabel('γ-ray flux', labelpad=23)

# panel 2: X-ray
ax = axes[1]
style(ax, 5, 1, (0.2, 36.2))
eb(ax, x_mjd, x_flux, x_err, ms=6)
ax.set_ylabel('X-ray flux', labelpad=15)

# panel 3: R mag
ax = axes[2]
style(ax, 0.2, 0.05, (13.33, 12.24))
ax.yaxis.set_major_formatter(FormatStrFormatter('%.1f'))
ax.plot(r_mjd, r_mag, 'D', color='black', ms=6, zorder=3)
eb(ax, r_err_mjd, r_err_mag, r_err_err, ms=6)
ax.set_ylabel('R, mag', labelpad=15)

# panel 4: P
ax = axes[3]
style(ax, 1, None, (-1.3, 5.85))
ax.spines['left'].set_linewidth(6.5)
ax.spines['right'].set_linewidth(6.5)
eb(ax, p_mjd, p_val, p_err)
ax.set_ylabel('P, %', labelpad=18)

# panel 5: EVPA
ax = axes[4]
style(ax, 50, 10, (-108, 110))
ax.tick_params(axis='x', labelbottom=True)
eb(ax, e_mjd, e_val, e_err)
ax.set_ylabel('EVPA, deg', labelpad=15)


def ftext(px, py, s, **kw):
    fig.text(px / W, 1 - py / H, s, **kw)


ftext(394, 47, '0.1-200 GeV', ha='center', va='baseline')
ftext(787, 47, '1226+023', ha='center', va='baseline')
ftext(383, 230, '0.3-10 keV', ha='center', va='baseline')
ftext(705, 932, 'MJD', ha='center', va='baseline')

fig.savefig('out.png', dpi=100)
